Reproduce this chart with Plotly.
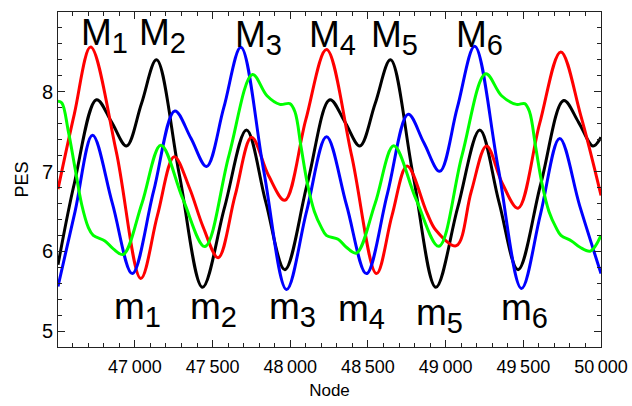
import plotly.graph_objects as go

# PES profiles along the node coordinate, one list per curve
node_black = [46505, 46610, 46753, 46850, 46946, 47042, 47139, 47287, 47435, 47577,
              47718, 47842, 47965, 48110, 48255, 48352, 48448, 48546, 48645, 48791,
              48937, 49078, 49220, 49343, 49466, 49613, 49760, 49855, 49949, 50000]
pes_black = [5.83, 6.85, 7.90, 7.62, 7.32, 7.85, 8.40, 6.95, 5.55, 6.55,
             7.52, 6.62, 5.77, 6.85, 7.90, 7.62, 7.32, 7.85, 8.40, 6.95,
             5.55, 6.55, 7.52, 6.62, 5.77, 6.85, 7.89, 7.62, 7.32, 7.43]

node_red = [46505, 46610, 46715, 46880, 47038, 47145, 47253, 47350, 47440, 47536,
            47645, 47751, 47860, 47965, 48100, 48233, 48395, 48555, 48655, 48752,
            48880, 48935, 49069, 49165, 49263, 49365, 49466, 49605, 49741, 49870, 50000]
pes_red = [6.78, 7.72, 8.56, 7.25, 5.66, 6.45, 7.185, 6.80, 6.30, 5.92,
           6.70, 7.43, 6.95, 6.64, 7.65, 8.53, 7.20, 5.72, 6.45, 7.07,
           6.48, 6.27, 6.07, 6.75, 7.32, 6.85, 6.54, 7.60, 8.50, 7.70, 6.70]

node_blue = [46505, 46615, 46727, 46855, 46983, 47120, 47257, 47360, 47461, 47572,
             47682, 47830, 47976, 48105, 48233, 48362, 48490, 48625, 48759, 48860,
             48962, 49075, 49187, 49338, 49488, 49611, 49734, 49863, 50000]
pes_blue = [5.56, 6.50, 7.455, 6.60, 5.72, 6.75, 7.76, 7.42, 7.064, 7.80,
            8.558, 7.00, 5.52, 6.50, 7.435, 6.58, 5.72, 6.72, 7.717, 7.36,
            7.002, 7.80, 8.571, 7.05, 5.533, 6.47, 7.414, 6.57, 5.72]

node_green = [46505, 46530, 46571, 46614, 46657, 46700, 46732, 46807, 46861, 46925,
              47045, 47167, 47310, 47450, 47605, 47757, 47850, 47933, 47997, 48030,
              48070, 48110, 48155, 48200, 48232, 48308, 48361, 48426, 48546, 48666,
              48810, 48956, 49105, 49258, 49360, 49456, 49509, 49540, 49580, 49620,
              49665, 49710, 49742, 49810, 49865, 49932, 50000]
pes_green = [7.88, 7.86, 7.51, 7.05, 6.59, 6.30, 6.20, 6.13, 6.03, 5.96,
             6.60, 7.33, 6.65, 6.06, 7.20, 8.217, 7.95, 7.842, 7.851, 7.75,
             7.30, 6.85, 6.50, 6.30, 6.20, 6.15, 6.05, 5.978, 6.60, 7.322,
             6.65, 6.062, 7.20, 8.225, 7.95, 7.842, 7.851, 7.75, 7.30, 6.85,
             6.50, 6.30, 6.20, 6.13, 6.05, 6.003, 6.20]

x_tick_vals = [47000, 47500, 48000, 48500, 49000, 49500, 50000]
x_tick_text = ["47\u2009000", "47\u2009500", "48\u2009000", "48\u2009500",
               "49\u2009000", "49\u2009500", "50\u2009000"]
y_tick_vals = [5, 6, 7, 8]

SUB = '<sub><span style="font-size:29px">{}</span></sub>'
max_labels = ["M" + SUB.format(i) for i in ["1", "2", "3", "4", "5", "6"]]
max_label_x = [46640, 47013, 47631, 48107, 48506, 49052]
max_label_y = [8.71, 8.71, 8.68, 8.68, 8.68, 8.68]

min_labels = ["m" + SUB.format(i) for i in ["1", "2", "3", "4", "5", "6"]]
min_label_x = [46852, 47341, 47849, 48293, 48795, 49342]
min_label_y = [5.27, 5.27, 5.27, 5.25, 5.19, 5.26]

FONT = "Liberation Sans, Arial, sans-serif"
FRAME = "#222222"

fig = go.Figure()
for nodes, pes, color in [(node_black, pes_black, "#000000"),
                          (node_red, pes_red, "#ff0000"),
                          (node_blue, pes_blue, "#0000ff"),
                          (node_green, pes_green, "#00ff00")]:
    fig.add_trace(go.Scatter(x=nodes, y=pes, mode="lines", showlegend=False,
                             line=dict(color=color, width=3, shape="spline", smoothing=1.0)))

for text, x, y in zip(max_labels, max_label_x, max_label_y):
    fig.add_annotation(x=x, y=y, xref="x", yref="y", text=text, showarrow=False,
                       xanchor="left", yanchor="middle",
                       font=dict(family=FONT, size=37, color="#000000"))
for text, x, y in zip(min_labels, min_label_x, min_label_y):
    fig.add_annotation(x=x, y=y, xref="x", yref="y", text=text, showarrow=False,
                       xanchor="left", yanchor="middle",
                       font=dict(family=FONT, size=37, color="#000000"))

axis_common = dict(showline=True, linecolor=FRAME, linewidth=1, mirror="allticks",
                   ticks="inside", tickcolor=FRAME, tickwidth=1, ticklen=7,
                   showgrid=False, zeroline=False)

fig.update_xaxes(range=[46505, 50000], tickvals=x_tick_vals, ticktext=x_tick_text,
                 tickfont=dict(family=FONT, size=18, color="#000000"),
                 ticklabelstandoff=3,
                 minor=dict(dtick=100, tick0=47000, ticks="inside", ticklen=4,
                            tickcolor=FRAME, tickwidth=1, showgrid=False),
                 title=dict(text="Node", font=dict(family=FONT, size=17, color="#000000"),
                            standoff=8),
                 **axis_common)
fig.update_yaxes(range=[4.8, 9.0], tickvals=y_tick_vals,
                 tickfont=dict(family=FONT, size=20, color="#000000"),
                 minor=dict(dtick=0.2, tick0=5, ticks="inside", ticklen=4,
                            tickcolor=FRAME, tickwidth=1, showgrid=False),
                 title=dict(text="PES", font=dict(family=FONT, size=18, color="#000000"),
                            standoff=8),
                 **axis_common)

fig.update_layout(width=632, height=406, autosize=False,
                  margin=dict(l=58, r=31, t=12, b=59, autoexpand=False),
                  paper_bgcolor="#ffffff", plot_bgcolor="#ffffff",
                  font=dict(family=FONT))

fig.write_html("out.html")
